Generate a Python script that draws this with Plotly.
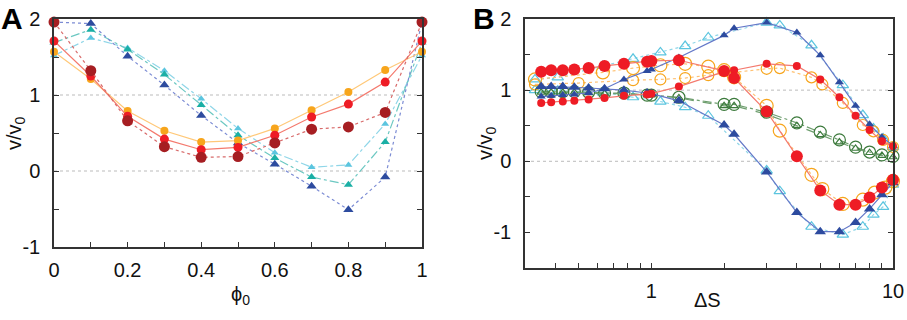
import plotly.graph_objects as go
import numpy as np

W, H = 907, 320

# ---------------- Panel A data ----------------
phi0 = [0, 0.1, 0.2, 0.3, 0.4, 0.5, 0.6, 0.7, 0.8, 0.9, 1.0]
a_orange = [1.57, 1.21, 0.79, 0.53, 0.38, 0.40, 0.56, 0.80, 1.04, 1.33, 1.57]
a_red = [1.71, 1.25, 0.72, 0.42, 0.28, 0.31, 0.47, 0.71, 0.88, 1.17, 1.71]
a_darkred = [1.96, 1.32, 0.66, 0.32, 0.18, 0.19, 0.37, 0.55, 0.58, 0.77, 1.96]
a_cyan = [1.52, 1.75, 1.62, 1.32, 0.95, 0.56, 0.24, 0.05, 0.08, 0.62, 1.52]
a_teal = [1.69, 1.86, 1.60, 1.27, 0.87, 0.47, 0.17, -0.08, -0.18, 0.38, 1.69]
a_blue = [1.96, 1.94, 1.51, 1.13, 0.73, 0.37, 0.09, -0.20, -0.51, -0.08, 1.96]

# ---------------- Panel B data ----------------
dS = [0.35, 0.385, 0.43, 0.48, 0.55, 0.64, 0.77, 0.96, 1.0, 1.3, 2.0, 2.2, 3.0, 4.0, 5.0, 6.0, 7.0, 8.0, 9.0, 10.0]
b_red_big = [1.26, 1.28, 1.28, 1.29, 1.31, 1.34, 1.37, 1.40, 1.41, 1.42, 1.27, 1.17, 0.70, 0.07, -0.41, -0.61, -0.61, -0.51, -0.37, -0.26]
b_red_small = [0.82, 0.83, 0.84, 0.85, 0.87, 0.89, 0.92, 0.94, 0.95, 1.05, 1.26, 1.28, 1.37, 1.34, 1.15, 0.90, 0.64, 0.44, 0.28, 0.21]
b_blue_up = [0.91, 0.92, 0.93, 0.94, 0.96, 1.02, 1.15, 1.27, 1.29, 1.46, 1.77, 1.87, 1.95, 1.81, 1.49, 1.11, 0.78, 0.52, 0.34, 0.22]
b_blue_down = [1.05, 1.05, 1.05, 1.04, 1.03, 1.02, 1.00, 0.96, 0.95, 0.85, 0.51, 0.38, -0.15, -0.72, -0.99, -0.99, -0.86, -0.67, -0.47, -0.30]
b_green_c = [0.98, 0.98, 0.98, 0.98, 0.97, 0.96, 0.96, 0.93, 0.93, 0.90, 0.80, 0.80, 0.69, 0.54, 0.41, 0.30, 0.20, 0.13, 0.09, 0.07]
b_green_t = [0.97, 0.97, 0.97, 0.97, 0.96, 0.95, 0.95, 0.93, 0.93, 0.89, 0.78, 0.78, 0.66, 0.50, 0.37, 0.27, 0.18, 0.12, 0.08, 0.06]

dS_open = [0.33, 0.41, 0.63, 0.84, 1.09, 1.38, 1.72, 3.0, 3.4, 4.6, 6.2, 7.5, 8.3, 9.1, 10.0]
b_cyan_up = [1.15, 1.18, 1.34, 1.44, 1.53, 1.62, 1.74, 1.95, 1.91, 1.63, 1.07, 0.65, 0.46, 0.32, 0.20]
b_cyan_down = [1.00, 0.99, 0.97, 0.90, 0.84, 0.76, 0.64, -0.13, -0.42, -0.92, -1.03, -0.92, -0.75, -0.64, -0.33]

dS_or_up = [0.33, 0.50, 0.84, 1.09, 1.38, 1.72, 3.0, 3.4, 4.6, 5.1, 6.2, 7.5, 8.3, 9.1, 10.0]
b_orange_up = [1.08, 1.10, 1.14, 1.15, 1.17, 1.21, 1.30, 1.31, 1.18, 1.08, 0.82, 0.51, 0.42, 0.30, 0.20]
dS_or_dn = [0.33, 0.63, 0.84, 1.09, 1.38, 1.72, 2.0, 2.2, 3.0, 3.4, 4.6, 5.1, 6.2, 7.5, 8.4, 9.3, 10.0]
b_orange_dn = [1.15, 1.25, 1.31, 1.35, 1.37, 1.33, 1.28, 1.18, 0.78, 0.43, -0.19, -0.39, -0.60, -0.54, -0.44, -0.37, -0.28]

# tick definitions
a_xticks = [0, 0.1, 0.2, 0.3, 0.4, 0.5, 0.6, 0.7, 0.8, 0.9, 1.0]
a_xlabels = ["0", "", "0.2", "", "0.4", "", "0.6", "", "0.8", "", "1"]
a_yticks = [-1, -0.5, 0, 0.5, 1, 1.5, 2]
a_ylabels = ["-1", "", "0", "", "1", "", "2"]
b_xticks = [0.4, 0.5, 0.6, 0.7, 0.8, 0.9, 1, 2, 3, 4, 5, 6, 7, 8, 9, 10]
b_xlabels = ["", "", "", "", "", "", "1", "", "", "", "", "", "", "", "", "10"]
b_yticks = [-1.5, -1, -0.5, 0, 0.5, 1, 1.5, 2]
b_ylabels = ["", "-1", "", "0", "", "1", "", "2"]

ORANGE = "#F7A51C"
RED = "#EE1C25"
DARKRED = "#A61E22"
CYAN = "#5BC5DF"
TEAL = "#1AAFA5"
BLUE = "#2D4B9F"
GREEN = "#3C7A3C"

fig = go.Figure()

def addA(y, color, lcolor, dash, symbol, size):
    fig.add_trace(go.Scatter(x=phi0, y=y, mode="lines+markers", xaxis="x", yaxis="y",
                             line=dict(color=lcolor, width=1.2, dash=dash),
                             marker=dict(color=color, symbol=symbol, size=size, line=dict(width=0)),
                             showlegend=False, cliponaxis=False))

addA(a_cyan, CYAN, "#8FD6E8", "dashdot", "triangle-up", 7)
addA(a_teal, TEAL, "#6CC8C2", "dashdot", "triangle-up", 8)
addA(a_blue, BLUE, "#7C8CD4", "dot", "triangle-up", 9)
addA(a_orange, ORANGE, "#FFC878", "solid", "circle", 8)
addA(a_red, RED, "#F47A6E", "solid", "circle", 9)
addA(a_darkred, DARKRED, "#D86A6A", "dot", "circle", 11)

def addB(x, y, color, lcolor, dash, symbol, size, open_=False, lw=1.2):
    if open_:
        marker = dict(color="rgba(0,0,0,0)", symbol=symbol, size=size, line=dict(color=color, width=1.2))
    else:
        marker = dict(color=color, symbol=symbol, size=size, line=dict(width=0))
    fig.add_trace(go.Scatter(x=x, y=y, mode="lines+markers", xaxis="x2", yaxis="y2",
                             line=dict(color=lcolor, width=lw, dash=dash),
                             marker=marker, showlegend=False, cliponaxis=False))

addB(dS_open, b_cyan_up, CYAN, "#8FD6E8", "dot", "triangle-up", 10, True)
addB(dS_open, b_cyan_down, CYAN, "#8FD6E8", "dot", "triangle-up", 10, True)
addB(dS_or_up, b_orange_up, ORANGE, "#FFC070", "dot", "circle", 11, True)
addB(dS_or_dn, b_orange_dn, ORANGE, "#FFC070", "dot", "circle", 13, True)
addB(dS, b_green_c, GREEN, "#6E9E6E", "dashdot", "circle", 12, True)
addB(dS, b_green_t, GREEN, "#6E9E6E", "dash", "triangle-up", 7, True)
addB(dS, b_blue_up, BLUE, "#6478C8", "solid", "triangle-up", 8)
addB(dS, b_blue_down, BLUE, "#6478C8", "solid", "triangle-up", 10)
addB(dS, b_red_small, RED, "#F47A6E", "solid", "circle", 8)
addB(dS, b_red_big, RED, "#F47A6E", "solid", "circle", 12)

FONT = "Liberation Sans, Arial, sans-serif"
axis_common = dict(showline=True, linecolor="#333333", linewidth=1.5, ticks="inside",
                   ticklen=5, tickwidth=1.2, tickcolor="#333333", showgrid=False, zeroline=False,
                   automargin=False,
                   tickfont=dict(family=FONT, size=20, color="#111"))

ax_l, ax_r = 54 / W, 422 / W
bx_l, bx_r = 525 / W, 893 / W
top = 1 - 19 / H
a_bot = 1 - 247 / H
b_bot = 1 - 268 / H

fig.update_layout(
    width=W, height=H, margin=dict(l=0, r=0, t=0, b=0, pad=0, autoexpand=False),
    paper_bgcolor="white", plot_bgcolor="white",
    xaxis=dict(domain=[ax_l, ax_r], range=[0, 1], tickmode="array", tickvals=a_xticks, ticktext=a_xlabels,
               mirror=True, anchor="y", ticklabelstandoff=4, **axis_common),
    yaxis=dict(domain=[a_bot, top], range=[-1, 2], tickmode="array", tickvals=a_yticks, ticktext=a_ylabels,
               mirror="ticks", anchor="x", ticklabelstandoff=8, **axis_common),
    xaxis2=dict(domain=[bx_l, bx_r], type="log", range=[np.log10(0.3), 1], tickmode="array",
                tickvals=b_xticks, ticktext=b_xlabels, mirror=True, anchor="y2", ticklabelstandoff=4,
                **axis_common),
    yaxis2=dict(domain=[b_bot, top], range=[-1.5, 2], tickmode="array", tickvals=b_yticks, ticktext=b_ylabels,
                mirror="ticks", anchor="x2", ticklabelstandoff=8, **axis_common),
)

# dotted reference lines at 0 and 1
for yref, xref in (("y", "x"), ("y2", "x2")):
    for v in (0, 1):
        fig.add_shape(type="line", xref=xref + " domain", yref=yref, x0=0, x1=1, y0=v, y1=v,
                      line=dict(color="#BBBBBB", width=1, dash="dot"), layer="below")

ann = dict(showarrow=False, xref="paper", yref="paper", xanchor="center", yanchor="middle",
           font=dict(family=FONT, size=20, color="#111"))
fig.add_annotation(text="v/v<sub>0</sub>", x=15 / W, y=1 - 133 / H, textangle=-90, **ann)
fig.add_annotation(text="v/v<sub>0</sub>", x=486 / W, y=1 - 143 / H, textangle=-90, **ann)
fig.add_annotation(text="ϕ<sub>0</sub>", x=240 / W, y=1 - 295 / H, **ann)
fig.add_annotation(text="ΔS", x=707 / W, y=1 - 300 / H, **ann)
fig.add_annotation(text="<b>A</b>", x=12 / W, y=1 - 18 / H, showarrow=False, xref="paper", yref="paper",
                   xanchor="center", yanchor="middle", font=dict(family=FONT, size=30, color="#000"))
fig.add_annotation(text="<b>B</b>", x=484 / W, y=1 - 18 / H, showarrow=False, xref="paper", yref="paper",
                   xanchor="center", yanchor="middle", font=dict(family=FONT, size=30, color="#000"))

fig.write_html("out.html", config={"displayModeBar": False},
               post_script="document.body.style.margin='0';document.body.style.padding='0';"
                           "document.body.style.overflow='hidden';")
